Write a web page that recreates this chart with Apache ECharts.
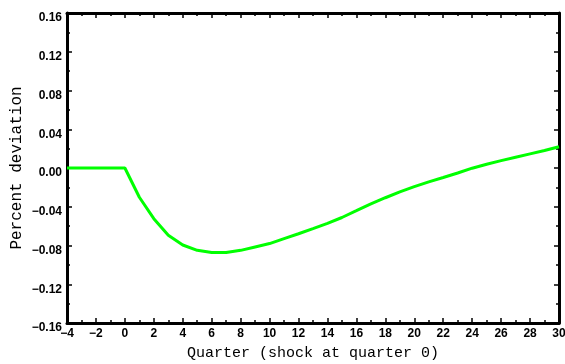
<!DOCTYPE html>
<html>
<head>
<meta charset="utf-8">
<style>
html, body { margin: 0; padding: 0; background: #fff; }
#chart { width: 565px; height: 364px; }
</style>
<script src="https://cdn.jsdelivr.net/npm/echarts@6/dist/echarts.min.js"></script>
</head>
<body>
<div id="chart"></div>
<script>
// quarters after the shock
var quarters = [-4, -3, -2, -1, 0, 1, 2, 3, 4, 5, 6, 7, 8, 9, 10, 11, 12, 13, 14, 15, 16, 17,
                18, 19, 20, 21, 22, 23, 24, 25, 26, 27, 28, 29, 30];
// percent deviation
var deviation = [0, 0, 0, 0, 0, -0.0302, -0.0523, -0.0694, -0.0795, -0.0850,
                 -0.0873, -0.0873, -0.0850, -0.0815, -0.0780, -0.0729, -0.0679, -0.0626, -0.0571,
                 -0.0511, -0.0441, -0.0370, -0.0307, -0.0247, -0.0193, -0.0143, -0.0098, -0.0052,
                 -0.0002, 0.0038, 0.0076, 0.0111, 0.0146, 0.0181, 0.0220];

var xTitle = 'Quarter (shock at quarter 0)';
var yTitle = 'Percent deviation';

var points = [];
for (var i = 0; i < quarters.length; i++) {
  points.push([quarters[i], deviation[i]]);
}

function minus(s) { return String(s).replace('-', '\u2212'); }

var axisLine = { show: true, onZero: false, lineStyle: { color: '#000', width: 3 } };
var tick = { inside: true, length: 5, lineStyle: { color: '#000', width: 1.5 } };
var minor = { show: true, splitNumber: 2, length: 3, lineStyle: { color: '#000', width: 1.5 } };

var myChart = echarts.init(document.getElementById('chart'));
var option = {
  animation: false,
  backgroundColor: '#fff',
  grid: { left: 67, right: 6, top: 13, bottom: 41, outerBoundsMode: 'none' },
  xAxis: [{
    type: 'value', min: -4, max: 30, interval: 2,
    axisLine: axisLine, axisTick: tick, minorTick: minor,
    splitLine: { show: false },
    axisLabel: {
      margin: 5, color: '#000', fontFamily: 'Liberation Sans', fontWeight: 'bold', fontSize: 12,
      formatter: function (v) { return minus(v); }
    },
    name: xTitle, nameLocation: 'middle', nameGap: 23, nameMoveOverlap: false,
    nameTextStyle: { color: '#000', fontFamily: 'Liberation Mono', fontSize: 15 }
  }, {
    type: 'value', position: 'top', min: -4, max: 30, interval: 2,
    axisLine: axisLine, axisTick: tick, minorTick: minor,
    splitLine: { show: false }, axisLabel: { show: false }
  }],
  yAxis: [{
    type: 'value', min: -0.16, max: 0.16, interval: 0.04,
    axisLine: axisLine, axisTick: tick, minorTick: minor,
    splitLine: { show: false },
    axisLabel: {
      margin: 5, verticalAlign: 'top', lineHeight: 10, color: '#000', fontFamily: 'Liberation Sans',
      fontWeight: 'bold', fontSize: 12,
      formatter: function (v) { return minus(v.toFixed(2)); }
    },
    name: yTitle, nameLocation: 'middle', nameGap: 42, nameMoveOverlap: false,
    nameTextStyle: { color: '#000', fontFamily: 'Liberation Mono', fontSize: 16 }
  }, {
    type: 'value', position: 'right', min: -0.16, max: 0.16, interval: 0.04,
    axisLine: axisLine, axisTick: tick, minorTick: minor,
    splitLine: { show: false }, axisLabel: { show: false }
  }],
  series: [{
    type: 'line',
    data: points,
    symbol: 'none',
    lineStyle: { color: '#00ff00', width: 3 }
  }]
};
myChart.setOption(option);
</script>
</body>
</html>
